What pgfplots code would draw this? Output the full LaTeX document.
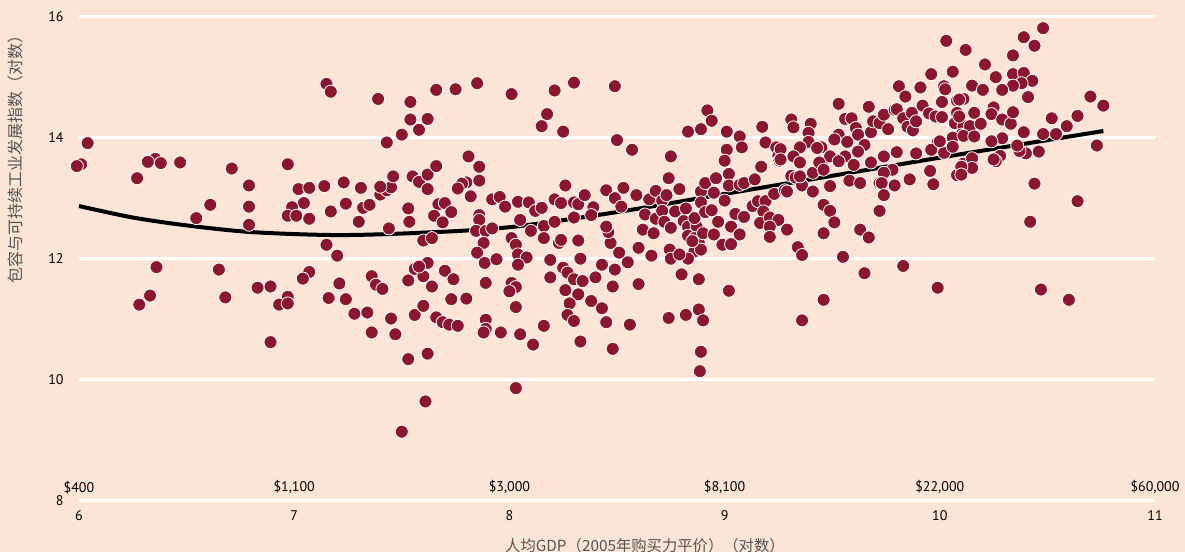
\documentclass[border=0pt]{standalone}
\usepackage{pgfplots}
\pgfplotsset{compat=1.18}
\usepackage{fontspec}
\setmainfont{PT Sans}
\newfontfamily\cjk{Noto Sans CJK SC}
\definecolor{bg}{HTML}{FCE4D6}
\definecolor{dot}{HTML}{8A1730}
\definecolor{lab}{HTML}{555555}
\tikzset{dollar/.style={anchor=center, yshift=10pt, font=\fontsize{10.5}{12}\selectfont}}

\begin{document}
\begin{tikzpicture}
\fill[bg] (-59.25pt,-38.5pt) rectangle (829.5pt,375.5pt);
\useasboundingbox (-59.25pt,-38.5pt) rectangle (829.5pt,375.5pt);
\begin{axis}[
  at={(0,0)}, anchor=south west,
  width=807pt, height=363pt, scale only axis,
  xmin=6, xmax=11, ymin=8, ymax=16,
  xtick={6,7,8,9,10,11}, ytick={8,10,12,14,16},
  axis line style={draw=none},
  tick style={draw=none},
  ymajorgrids,
  major grid style={white, line width=2.2pt},
  clip=false,
  /pgf/number format/assume math mode=true,
  tick label style={font=\fontsize{10.5}{12}\selectfont, black},
  yticklabel style={xshift=-8pt},
  xticklabel style={yshift=-4pt},
  xlabel={\cjk 人均GDP（2005年购买力平价）（对数）},
  ylabel={\cjk 包容与可持续工业发展指数（对数）},
  xlabel style={at={(rel axis cs:0.526,0)}, anchor=center, yshift=-33.5pt,
    font=\fontsize{11.5}{13}\selectfont, text=lab},
  ylabel style={at={(rel axis cs:0,0.714)}, anchor=center, yshift=47.5pt,
    font=\fontsize{12}{14}\selectfont, text=lab},
]
% scatter: economies
\addplot[only marks, mark=*, mark size=4.9pt,
  mark options={fill=dot, draw=white, line width=0.6pt}] table {
x y
6.04 13.91
6.01 13.56
5.99 13.53
6.27 13.33
6.355 13.65
6.38 13.58
6.32 13.60
6.47 13.59
6.71 13.49
6.61 12.89
6.545 12.67
6.79 13.21
6.79 12.86
6.79 12.56
6.36 11.86
6.65 11.82
6.33 11.39
6.28 11.24
6.68 11.36
7.15 14.89
7.17 14.76
7.39 14.64
7.54 14.59
7.54 14.30
7.58 14.13
7.50 14.05
7.43 13.92
7.62 14.31
6.97 13.56
7.02 13.15
7.07 13.17
7.14 13.20
7.23 13.26
7.31 13.17
7.045 12.92
6.99 12.85
6.97 12.71
7.01 12.71
7.07 12.66
7.17 12.78
7.24 12.91
7.30 12.61
7.32 12.84
7.35 12.89
7.40 13.06
7.43 13.13
7.45 13.18
7.40 13.19
7.46 13.36
7.55 13.36
7.58 13.27
7.62 13.15
7.62 13.39
7.53 12.83
7.535 12.61
7.44 12.50
7.60 12.30
7.15 12.23
7.20 12.05
7.07 11.78
7.04 11.67
6.83 11.52
6.89 11.54
6.97 11.37
6.93 11.24
6.97 11.26
7.21 11.59
7.16 11.35
7.24 11.33
7.28 11.09
7.34 11.11
7.36 11.71
7.38 11.57
7.41 11.50
7.36 10.78
7.45 11.01
7.47 10.75
6.89 10.62
7.53 11.64
7.56 11.83
7.60 11.71
7.62 11.93
7.56 11.07
7.60 11.22
7.53 10.34
7.62 10.43
7.61 9.64
7.50 9.14
7.66 14.79
7.75 14.80
7.85 14.90
8.01 14.72
8.21 14.78
8.30 14.91
8.175 14.39
8.15 14.19
8.25 14.10
7.81 13.69
7.86 13.52
7.86 13.29
7.80 13.26
7.78 13.24
7.76 13.16
7.82 13.03
7.66 13.53
7.67 12.90
7.70 12.92
7.73 12.77
7.65 12.71
7.69 12.60
7.92 12.98
7.955 13.02
7.98 12.86
8.04 12.94
8.09 12.93
8.12 12.79
8.15 12.84
8.05 12.64
7.86 12.72
7.86 12.64
8.21 12.98
8.24 12.92
8.26 13.21
8.30 12.93
8.32 12.90
8.35 13.05
8.39 12.85
8.38 12.72
8.45 13.13
7.64 12.34
7.845 12.46
7.89 12.46
7.92 12.50
8.10 12.46
8.16 12.54
8.21 12.61
8.30 12.68
7.88 12.26
7.85 12.10
7.885 11.93
7.94 11.99
8.01 12.34
8.03 12.23
8.04 12.07
8.08 12.02
8.04 11.90
8.16 12.34
8.23 12.26
8.24 12.31
8.32 12.30
8.33 12.00
7.58 11.87
7.64 11.54
7.70 11.80
7.74 11.66
7.66 11.03
7.69 10.95
7.72 10.91
7.76 10.89
7.73 11.33
7.80 11.34
7.89 11.60
8.01 11.60
8.03 11.53
8.00 11.46
8.03 11.20
7.89 10.99
7.89 10.84
7.88 10.78
7.96 10.78
8.05 10.75
8.11 10.58
8.16 10.89
8.19 11.98
8.19 11.69
8.25 11.85
8.27 11.77
8.30 11.66
8.34 11.63
8.26 11.48
8.32 11.41
8.28 11.26
8.38 11.30
8.43 11.18
8.27 11.07
8.30 10.97
8.33 10.63
8.40 11.69
8.43 11.90
8.45 10.95
8.03 9.86
8.49 14.85
8.50 13.96
8.57 13.80
8.92 14.45
8.94 14.28
8.89 14.14
8.83 14.10
9.01 14.10
9.07 14.02
9.08 13.84
9.01 13.80
9.00 13.62
9.175 14.18
9.19 13.92
9.24 13.84
9.25 13.70
9.255 13.62
9.17 13.52
8.75 13.69
8.74 13.33
8.79 13.15
8.49 13.00
8.53 13.17
8.52 12.86
8.59 13.05
8.65 12.98
8.68 13.12
8.71 12.96
8.73 13.05
8.63 12.73
8.68 12.66
8.71 12.79
8.72 12.61
8.75 12.51
8.77 12.78
8.82 12.83
8.81 12.62
8.83 12.53
8.87 12.53
8.86 12.67
8.89 13.11
8.91 13.25
8.96 13.33
9.02 13.40
9.02 13.21
9.00 12.96
8.95 13.09
8.89 12.93
8.91 12.77
8.94 12.80
8.97 12.61
9.03 12.53
9.05 12.74
9.09 12.69
9.07 12.40
8.99 12.23
9.03 12.24
8.83 12.38
8.86 12.34
8.88 12.26
8.90 12.42
8.95 12.40
8.86 12.12
8.83 12.00
8.89 12.15
8.85 12.29
8.745 12.15
8.75 12.00
8.79 12.07
8.66 12.05
8.60 12.18
8.55 11.94
8.49 11.82
8.51 12.10
8.47 12.26
8.46 12.44
8.45 12.53
8.62 12.48
8.67 12.42
9.13 12.87
9.155 12.95
9.19 12.95
9.18 12.78
9.165 12.59
9.21 12.68
9.25 12.64
9.21 12.53
9.21 12.36
9.29 12.48
9.07 13.22
9.09 13.25
9.14 13.31
9.23 13.07
9.28 13.13
9.31 13.37
8.80 11.74
8.88 11.66
9.02 11.47
8.60 11.58
8.48 11.54
8.56 10.91
8.74 11.02
8.82 11.07
8.88 11.16
8.90 10.98
8.48 10.51
8.89 10.46
8.885 10.14
10.03 15.60
10.12 15.45
10.06 15.09
9.96 15.05
9.91 14.83
9.81 14.85
9.84 14.68
9.53 14.56
10.02 14.85
10.025 14.80
10.01 14.59
10.08 14.61
10.11 14.64
10.08 14.41
10.07 14.24
10.11 14.19
10.10 14.05
10.06 14.00
9.99 13.92
10.02 13.75
10.06 13.85
10.11 13.57
10.08 13.38
9.97 13.23
9.955 13.45
9.31 14.30
9.32 14.17
9.40 14.23
9.39 14.08
9.39 13.93
9.45 13.84
9.35 13.84
9.32 13.69
9.35 13.59
9.26 13.81
9.26 13.64
9.33 13.34
9.29 13.11
9.36 13.21
9.41 13.11
9.49 13.20
9.41 13.42
9.45 13.58
9.49 13.69
9.53 14.05
9.56 14.31
9.59 14.32
9.61 14.16
9.62 14.05
9.67 14.51
9.68 14.09
9.69 14.27
9.72 14.24
9.74 14.38
9.76 14.14
9.79 14.46
9.80 14.47
9.83 14.32
9.85 14.18
9.87 14.41
9.875 14.12
9.89 14.27
9.92 14.53
9.95 14.40
9.98 14.35
10.01 14.34
9.51 13.97
9.57 13.93
9.65 13.88
9.62 13.77
9.56 13.69
9.53 13.61
9.43 13.83
9.44 13.59
9.46 13.47
9.35 13.36
9.60 13.55
9.68 13.59
9.74 13.69
9.80 13.76
9.78 13.47
9.74 13.42
9.72 13.25
9.79 13.21
9.86 13.31
9.89 13.74
9.96 13.80
10.00 13.94
9.58 13.29
9.63 13.25
9.73 13.25
9.74 13.05
9.72 12.79
9.46 12.89
9.49 12.79
9.51 12.60
9.46 12.42
9.63 12.48
9.67 12.35
9.34 12.19
9.36 12.06
9.55 12.03
9.65 11.76
9.83 11.88
9.99 11.52
9.46 11.32
9.36 10.98
10.48 15.81
10.39 15.66
10.44 15.52
10.34 15.36
10.21 15.21
10.26 15.00
10.34 15.05
10.39 15.07
10.43 14.94
10.38 14.90
10.34 14.86
10.29 14.79
10.15 14.86
10.20 14.79
10.41 14.67
10.25 14.50
10.24 14.39
10.16 14.41
10.14 14.19
10.19 14.23
10.11 14.03
10.16 14.02
10.29 14.30
10.33 14.23
10.34 14.42
10.39 14.09
10.29 13.99
10.24 13.94
10.09 14.63
10.09 14.35
10.52 14.32
10.59 14.19
10.64 14.36
10.70 14.68
10.76 14.53
10.48 14.06
10.54 14.06
10.73 13.87
10.46 13.77
10.40 13.74
10.37 13.78
10.36 13.87
10.28 13.70
10.26 13.61
10.25 13.64
10.15 13.66
10.15 13.50
10.10 13.52
10.10 13.39
10.44 13.24
10.64 12.95
10.42 12.61
10.47 11.49
10.60 11.32
};
% fitted curve
\addplot[black, line width=3pt, smooth] coordinates {
(6,12.87) (6.25,12.68) (6.5,12.55) (6.8,12.44) (7.2,12.39) (7.6,12.43)
(8,12.52) (8.5,12.77) (9,13.07) (9.5,13.37) (10,13.67) (10.5,13.96) (10.76,14.11)
};
% GDP per capita in dollars above the x axis
\node[dollar] at (axis cs:6,8) {\$400};
\node[dollar] at (axis cs:7,8) {\$1,100};
\node[dollar] at (axis cs:8,8) {\$3,000};
\node[dollar] at (axis cs:9,8) {\$8,100};
\node[dollar] at (axis cs:10,8) {\$22,000};
\node[dollar] at (axis cs:11,8) {\$60,000};
\end{axis}
\end{tikzpicture}
\end{document}
